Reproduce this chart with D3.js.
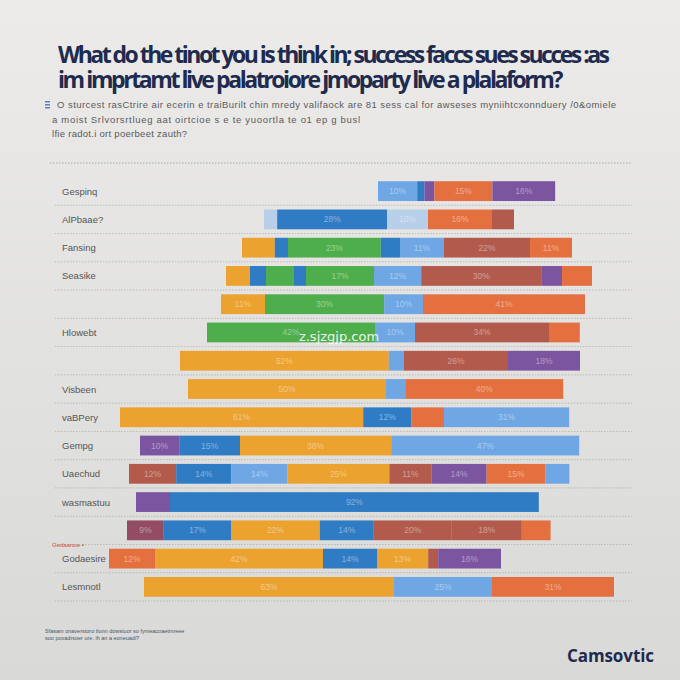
<!DOCTYPE html>
<html><head><meta charset="utf-8">
<script src="https://cdn.jsdelivr.net/npm/d3@7"></script>
<style>
html,body{margin:0;padding:0;background:#e4e4e2;}
svg{display:block;}
</style></head>
<body>
<script>
// ---------- DATA ----------
const titleLines = [
  "What do the tinot you is think in; success faccs sues succes :as",
  "im imprtamt live  palatroiore jmoparty live a plalaform?"
];
const subtitleLines = [
  "O sturcest rasCtrire air ecerin e traiBurilt chin mredy valifaock are 81 sess cal for awseses myniihtcxonnduery /0&omiele",
  "a moist Srlvorsrtlueg aat oirtcioe s e te yuoortla te o1 ep g busl",
  "lfie radot.i ort poerbeet zauth?"
];
const categories = ["Gespinq","AlPbaae?","Fansing","Seasike","r5","Hlowebt","r7","Visbeen","vaBPery","Gempg","Uaechud","wasmastuu","r13","Godaesire","Lesmnotl"];
const categoryLabels = ["Gespinq","AlPbaae?","Fansing","Seasike","","Hlowebt","","Visbeen","vaBPery","Gempg","Uaechud","wasmastuu","","Godaesire","Lesmnotl"];
// offset where each bar begins
const barStarts = [69.5, 41, 35.5, 31.5, 30.25, 26.75, 20, 22, 5, 10, 7.25, 9, 6.75, 2.25, 11];
// segment series keys and values, per row
const segKeys = [
  ["lb","b","p","o","p"],
  ["pale","b","pale","o","br"],
  ["yo","b","g","b","lb","br","o"],
  ["yo","b","g","b","g","lb","br","p","o"],
  ["yo","g","lb","o"],
  ["g","lb","br","o"],
  ["yo","lb","br","p"],
  ["yo","lb","o"],
  ["yo","b","o","lb"],
  ["p","b","yo","lb"],
  ["br","b","lb","yo","br","p","o","lb"],
  ["p","b"],
  ["mb","b","yo","b","br","br","o"],
  ["o","yo","b","yo","br","p"],
  ["yo","lb","o"]
];
const segValues = [
  [9.8, 1.8, 2.5, 14.5, 15.7],
  [3.3, 27.5, 10.2, 16, 5.5],
  [8.2, 3.3, 23.2, 4.8, 11, 21.5, 10.5],
  [6, 4, 7, 3, 17, 11.8, 30, 5.2, 7.5],
  [11, 29.8, 9.7, 40.5],
  [42, 10, 33.5, 7.7],
  [52.2, 3.8, 26, 18],
  [49.5, 4.8, 39.5],
  [60.8, 12, 8.2, 31.3],
  [9.8, 15.2, 37.8, 47],
  [11.8, 13.8, 14, 25.5, 10.5, 13.8, 14.7, 6],
  [8.5, 92.2],
  [9.2, 16.8, 22.2, 13.5, 19.5, 17.5, 7.2],
  [11.5, 42, 13.5, 12.8, 2.5, 15.7],
  [62.5, 24.5, 30.5]
];
const footnoteLines = [
  "Sfasam onaverstoro tlunn dowstuor so fymeacoaetmreee",
  "soo poxadrsoer ure. ih an a eoneuadi?"
];
const brandText = "Camsovtic";
const watermarkText = "z.sjzgjp.com";

// ---------- STYLE ----------
const colors = {
  lb:"#6fa6e4", b:"#2f7cc5", p:"#7b55a0", o:"#e5703f", br:"#b25a4b",
  g:"#4fae4c", yo:"#eca22f", pale:"#b7cfe8", mb:"#934c63"
};

const W = 680, H = 680;
const svg = d3.select("body").append("svg").attr("width", W).attr("height", H);

function fitWidth(sel, target){
  const node = sel.node();
  const n = sel.text().length;
  const nat = node.getComputedTextLength();
  sel.attr("letter-spacing", ((target - nat) / Math.max(1, n - 1)).toFixed(3));
}

const defs = svg.append("defs");
const bg = defs.append("linearGradient").attr("id","bg").attr("x1",0).attr("y1",0).attr("x2",0).attr("y2",1);
bg.append("stop").attr("offset","0%").attr("stop-color","#ecebea");
bg.append("stop").attr("offset","100%").attr("stop-color","#d9d9d7");
svg.append("rect").attr("width",W).attr("height",H).attr("fill","url(#bg)");

// title (one text block, two lines)
const title = svg.append("text").attr("font-family","'Open Sans', 'DejaVu Sans', sans-serif")
  .attr("font-weight","bold").attr("fill","#1e2b4f").attr("font-size",23);
const tW = [552, 503];
titleLines.forEach((t,i)=>{
  const ts = title.append("tspan").attr("x",58).attr("y",63+i*25).text(t);
  fitWidth(ts, tW[i]);
});
// subtitle
svg.append("g").selectAll("rect").data([0,1,2]).join("rect")
  .attr("x",45).attr("y",d=>101+d*3).attr("width",5).attr("height",1.5).attr("fill","#5b7fd0");
const sW = [559, 308, 135];
const sX = [57, 52, 52];
subtitleLines.forEach((t,i)=>{
  const st = svg.append("text").attr("x",sX[i]).attr("y",108+i*14.5).attr("font-size",9.5)
    .attr("font-family","'Liberation Sans Narrow','Liberation Sans',sans-serif")
    .attr("fill","#5a5a5a").text(t);
  fitWidth(st, sW[i]);
});

// scales
const x = d3.scaleLinear().domain([0,130]).range([100,620]);
const y = d3.scaleBand().domain(categories).range([177,601]).paddingInner(0.3).paddingOuter(0.15);

// gridlines
const grid = svg.append("g").attr("stroke","#9a9a9a").attr("stroke-width",0.8).attr("stroke-dasharray","1.5,1.5");
grid.append("line").attr("x1",50).attr("x2",632).attr("y1",163).attr("y2",163);
categories.forEach((c,i)=>{
  const yy = y(c) + y.bandwidth() + (y.step()-y.bandwidth())/2;
  grid.append("line").attr("x1",55).attr("x2",632).attr("y1",yy).attr("y2",yy).attr("opacity",0.7);
});

// bars
const rows = svg.append("g");
categories.forEach((c,i)=>{
  let acc = barStarts[i];
  const segs = segValues[i].map((v,j)=>{ const s={k:segKeys[i][j], x0:acc, x1:acc+v}; acc+=v; return s; });
  const g = rows.append("g");
  g.selectAll("rect").data(segs).join("rect")
    .attr("x",d=>x(d.x0)).attr("width",d=>x(d.x1)-x(d.x0))
    .attr("y",y(c)).attr("height",y.bandwidth())
    .attr("fill",d=>colors[d.k]);
  // faint inner labels
  g.selectAll("text").data(segs.filter(d=>d.x1-d.x0>9)).join("text")
    .attr("x",d=>(x(d.x0)+x(d.x1))/2).attr("y",y(c)+y.bandwidth()/2+3)
    .attr("text-anchor","middle").attr("font-size",8.5).attr("fill","#fff").attr("opacity",0.4)
    .attr("font-family","'Liberation Sans Narrow',sans-serif")
    .text(d=>Math.round(d.x1-d.x0)+"%");
});

// labels
svg.append("g").selectAll("text").data(categories).join("text")
  .attr("x",62).attr("y",c=>y(c)+y.bandwidth()/2+3.5)
  .attr("font-size",9.5).attr("fill","#555")
  .attr("font-family","'Liberation Sans Narrow','Liberation Sans',sans-serif")
  .text((c,i)=>categoryLabels[i]);
svg.append("text").attr("x",52).attr("y",547).attr("font-size",6).attr("fill","#d0503a")
  .attr("font-family","'Liberation Sans Narrow',sans-serif").text("Gedaanoe ▪");

// watermark
svg.append("text").attr("x",339).attr("y",341).attr("text-anchor","middle")
  .attr("font-size",13).attr("fill","#fff").attr("opacity",0.9)
  .attr("font-family","'DejaVu Sans',sans-serif").text(watermarkText);

// footnote
footnoteLines.forEach((t,i)=>{
  svg.append("text").attr("x",45).attr("y",633+i*7).attr("font-size",5.5).attr("fill","#4a5468")
    .attr("font-family","'Liberation Sans Narrow',sans-serif").text(t);
});
// brand
const brand = svg.append("text").attr("x",567).attr("y",662)
  .attr("font-size",17).attr("font-weight","bold").attr("fill","#1e2b4f")
  .attr("font-family","'Open Sans',sans-serif").text(brandText);
fitWidth(brand, 87);
</script>
</body></html>
